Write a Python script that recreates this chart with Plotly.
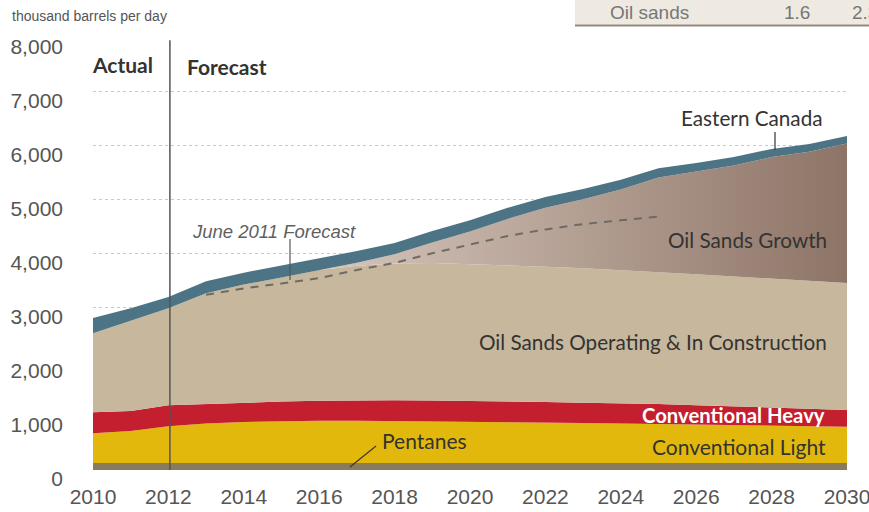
import plotly.graph_objects as go

# ---------------- data (thousand barrels per day) ----------------
years = list(range(2010, 2031))
pentanes = [130, 130, 130, 130, 130, 130, 130, 130, 130, 130, 130,
            130, 130, 130, 130, 130, 130, 130, 130, 130, 130]
conv_light = [550, 590, 680, 730, 760, 775, 780, 780, 775, 770, 765,
              760, 750, 740, 730, 720, 710, 700, 690, 680, 670]
conv_heavy = [390, 370, 390, 365, 355, 360, 370, 380, 385, 385, 385,
              380, 380, 375, 375, 370, 360, 350, 340, 330, 310]
os_operating = [1460, 1670, 1790, 2045, 2185, 2295, 2420, 2490, 2530, 2545, 2530,
                2520, 2500, 2485, 2465, 2440, 2420, 2400, 2380, 2360, 2350]
os_growth = [0, 0, 0, 0, 0, 0, 0, 55, 170, 380, 600,
             855, 1090, 1280, 1490, 1750, 1900, 2055, 2250, 2385, 2580]
eastern_canada = [280, 230, 210, 220, 220, 220, 220, 215, 210, 210, 210,
                  205, 200, 190, 180, 170, 160, 155, 150, 145, 140]

june2011_years = [2013, 2014, 2015, 2016, 2017, 2018, 2019, 2020, 2021, 2022, 2023, 2024, 2025]
june2011_total = [3240, 3360, 3450, 3550, 3700, 3830, 4010, 4170, 4330, 4450, 4550, 4620, 4690]

x_ticks = [2010, 2012, 2014, 2016, 2018, 2020, 2022, 2024, 2026, 2028, 2030]
y_ticks = [0, 1000, 2000, 3000, 4000, 5000, 6000, 7000, 8000]
y_ticktext = ["0", "1,000", "2,000", "3,000", "4,000", "5,000", "6,000", "7,000", "8,000"]

# ---------------- layout helpers ----------------
W, H = 869, 512
L, R, T, B = 93, 22, 37, 42
PW, PH = W - L - R, H - T - B


def xp(px):
    return (px - L) / PW


def yp(py):
    return (H - B - py) / PH


LABEL_FONT = "Lato, 'Open Sans', sans-serif"
SANS = "'Liberation Sans', Arial, sans-serif"

fig = go.Figure()

layers = [
    ("Pentanes", pentanes, "#8a7b5c"),
    ("Conventional Light", conv_light, "#e2b80d"),
    ("Conventional Heavy", conv_heavy, "#c41f2f"),
    ("Oil Sands Operating & In Construction", os_operating, "#c7b79d"),
]
for name, vals, col in layers:
    fig.add_trace(go.Scatter(
        x=years, y=vals, name=name, stackgroup="s", mode="lines",
        line=dict(width=0, color=col), fillcolor=col, hoverinfo="skip"))

fig.add_trace(go.Scatter(
    x=years, y=os_growth, name="Oil Sands Growth", stackgroup="s", mode="lines",
    line=dict(width=0, color="#a89083"),
    fillgradient=dict(type="horizontal",
                      colorscale=[[0.0, "#d2c3b0"], [0.3, "#d6c6bd"],
                                  [0.65, "#b39e92"], [1.0, "#8d7467"]]),
    hoverinfo="skip"))

fig.add_trace(go.Scatter(
    x=years, y=eastern_canada, name="Eastern Canada", stackgroup="s", mode="lines",
    line=dict(width=0, color="#4d7485"), fillcolor="#4d7485", hoverinfo="skip"))

fig.add_trace(go.Scatter(
    x=june2011_years, y=june2011_total, mode="lines", name="June 2011 Forecast",
    line=dict(color="#6e6a66", width=2, dash="8px,7px"), hoverinfo="skip"))

shapes = [
    # Actual / Forecast divider
    dict(type="line", xref="x", yref="y", x0=2012.04, x1=2012.04, y0=0, y1=7950,
         line=dict(color="#555555", width=1.5)),
    # leader lines
    dict(type="line", xref="paper", yref="paper", x0=xp(290), x1=xp(290), y0=yp(239), y1=yp(280),
         line=dict(color="#555555", width=1.2)),
    dict(type="line", xref="paper", yref="paper", x0=xp(775), x1=xp(775), y0=yp(132), y1=yp(150),
         line=dict(color="#333333", width=1.2)),
    dict(type="line", xref="paper", yref="paper", x0=xp(350), x1=xp(376), y0=yp(467), y1=yp(446),
         line=dict(color="#3a3a2a", width=1.2)),
    # top-right table fragment
    dict(type="rect", xref="paper", yref="paper", x0=xp(575), x1=xp(880), y0=yp(25), y1=yp(-2),
         fillcolor="#eeeae2", line=dict(width=0), layer="below"),
    dict(type="line", xref="paper", yref="paper", x0=xp(575), x1=xp(880), y0=yp(25.5), y1=yp(25.5),
         line=dict(color="#948a7c", width=2)),
]

ann = []


def add_text(text, px, py, size, color, bold=False, italic=False, xanchor="center",
             family=LABEL_FONT):
    t = text
    if bold:
        t = "<b>" + t + "</b>"
    if italic:
        t = "<i>" + t + "</i>"
    ann.append(dict(text=t, xref="paper", yref="paper", x=xp(px), y=yp(py),
                    xanchor=xanchor, yanchor="middle", showarrow=False,
                    font=dict(size=size, color=color, family=family)))


add_text("thousand barrels per day", 10, 16, 14, "#555555", xanchor="left",
         family="'Liberation Sans Narrow', 'Arial Narrow', 'Liberation Sans', sans-serif")
add_text("Oil sands", 649, 13, 19, "#777777", family=SANS)
add_text("1.6", 797, 13, 19, "#777777", family=SANS)
add_text("2.3", 850, 13, 19, "#777777", xanchor="left", family=SANS)
add_text("Actual", 122, 64, 21, "#333333", bold=True)
add_text("Forecast", 185, 66, 21, "#333333", bold=True, xanchor="left")
add_text("June 2011 Forecast", 274, 231, 18.5, "#5f5f5f", italic=True, family=SANS)
add_text("Eastern Canada", 752, 118, 20.7, "#333333")
add_text("Oil Sands Growth", 747, 240, 20.7, "#333333")
add_text("Oil Sands Operating &amp; In Construction", 653, 342, 20.7, "#333333")
add_text("Conventional Heavy", 733, 415, 20.3, "#ffffff", bold=True)
add_text("Conventional Light", 739, 446, 21, "#333333")
add_text("Pentanes", 424, 440, 21, "#333333")

fig.update_layout(
    width=W, height=H,
    margin=dict(l=L, r=R, t=T, b=B, pad=0, autoexpand=False),
    paper_bgcolor="white", plot_bgcolor="white",
    showlegend=False,
    shapes=shapes, annotations=ann,
    font=dict(family=SANS, color="#555555"),
    xaxis=dict(range=[2010, 2030], tickvals=x_ticks, ticktext=[str(v) for v in x_ticks],
               showgrid=False, zeroline=False, showline=False, ticks="",
               tickfont=dict(size=21, color="#555555"), ticklabelstandoff=12,
               ticklabeloverflow="allow", automargin=False),
    yaxis=dict(range=[0, 8010], tickvals=y_ticks, ticktext=y_ticktext,
               showgrid=True, gridcolor="#c9c9c9", griddash="3px,3px", gridwidth=1,
               zeroline=False, showline=False, ticks="",
               tickfont=dict(size=21, color="#555555"),
               ticklabelstandoff=29, ticklabelshift=9, automargin=False),
)

fig.write_html("out.html")
